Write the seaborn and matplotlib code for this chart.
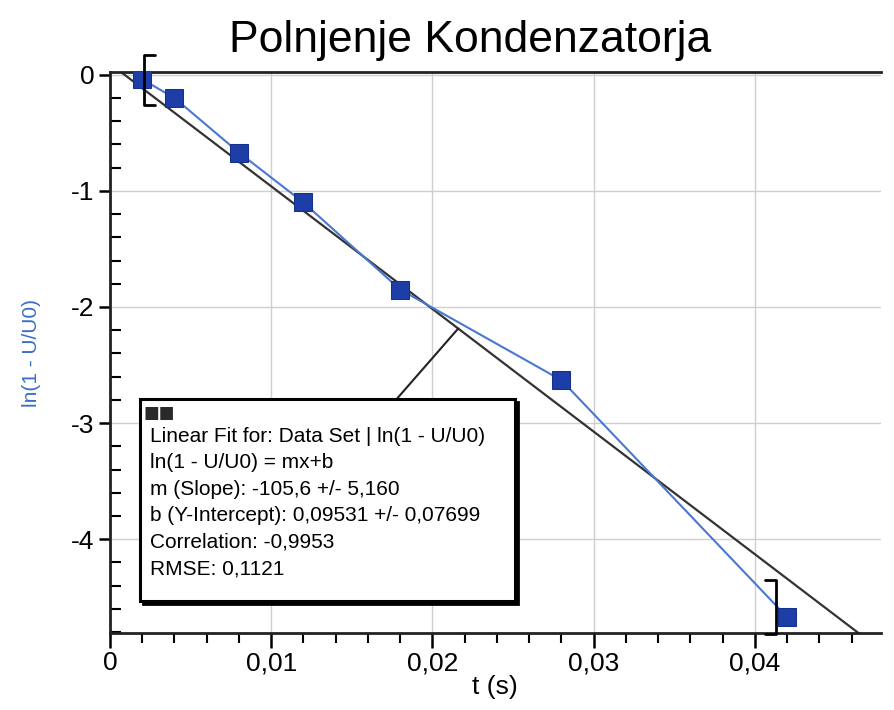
import numpy as np
import pandas as pd
import matplotlib
matplotlib.use("Agg")
import matplotlib.pyplot as plt
from matplotlib.patches import Rectangle
from matplotlib.ticker import MultipleLocator, FuncFormatter
import seaborn as sns

t_s = [0.002, 0.004, 0.008, 0.012, 0.018, 0.028, 0.042]
ln_vals = [-0.04, -0.20, -0.67, -1.10, -1.85, -2.63, -4.67]

# linear fit reported in the box
fit_m = -105.6
fit_b = 0.09531
fit_text = ["Linear Fit for: Data Set | ln(1 - U/U0)",
            "ln(1 - U/U0) = mx+b",
            "m (Slope): -105,6 +/- 5,160",
            "b (Y-Intercept): 0,09531 +/- 0,07699",
            "Correlation: -0,9953",
            "RMSE: 0,1121"]

df = pd.DataFrame({"t": t_s, "ln": ln_vals})

sns.set_style("white")
plt.rcParams['font.family'] = ['Liberation Sans', 'DejaVu Sans']
plt.rcParams['text.color'] = 'black'
plt.rcParams['axes.labelcolor'] = 'black'
plt.rcParams['xtick.color'] = 'black'
plt.rcParams['ytick.color'] = 'black'

fig = plt.figure(figsize=(8.94, 7.10), dpi=100)
ax = fig.add_axes([0.123, 0.108, 0.862, 0.791])

x0, x1 = 0, 0.0478
y0, y1 = -4.81, 0.026
ax.set_xlim(x0, x1)
ax.set_ylim(y0, y1)

# fit line across the whole plot
xf = np.array([x0, x1])
ax.plot(xf, fit_m * xf + fit_b, color="#333333", lw=1.6, zorder=2)

# data set
sns.lineplot(data=df, x="t", y="ln", ax=ax, color="#4a78d0", lw=1.5,
             marker="s", markersize=13, markerfacecolor="#1c3ea6",
             markeredgecolor="#16318a", zorder=3)

# selection brackets
def bracket(x, ya, yb, side):
    d = 0.0007 * side
    ax.plot([x + d, x, x, x + d], [ya, ya, yb, yb], color="black", lw=2,
            clip_on=False, zorder=4)

bracket(0.0021, 0.17, -0.26, 1)
bracket(0.0413, -4.35, -4.82, -1)

# grid, ticks
ax.xaxis.set_major_locator(MultipleLocator(0.01))
ax.xaxis.set_minor_locator(MultipleLocator(0.002))
ax.yaxis.set_major_locator(MultipleLocator(1))
ax.yaxis.set_minor_locator(MultipleLocator(0.2))
ax.xaxis.set_major_formatter(FuncFormatter(lambda v, p: ("%g" % round(v, 4)).replace(".", ",")))
ax.yaxis.set_major_formatter(FuncFormatter(lambda v, p: "%d" % round(v)))
ax.grid(True, which="major", color="#cfcfcf", lw=1)
ax.tick_params(axis="x", which="major", direction="out", length=11, width=1.8,
               labelsize=19, pad=2)
ax.tick_params(axis="x", which="minor", direction="out", length=7, width=1.5)
ax.tick_params(axis="y", which="major", direction="out", length=8, width=1.8,
               labelsize=19, pad=3)
ax.tick_params(axis="y", which="minor", direction="in", length=8, width=1.5)
ax.tick_params(bottom=True, left=True, which="both")

for s in ["left", "bottom", "top"]:
    ax.spines[s].set_color("#222222")
    ax.spines[s].set_linewidth(2)
ax.spines["right"].set_visible(False)

ax.set_xlabel("t (s)", fontsize=19, labelpad=0)
ax.set_ylabel("ln(1 - U/U0)", fontsize=15, color="#3a6fc4", labelpad=22)

fig.text(0.526, 0.943, "Polnjenje Kondenzatorja", fontsize=32,
         ha="center", va="center")

# fit info box with leader to the fit line
t_ann = 0.0216
ax.plot([0.0178, t_ann], [-2.79, fit_m * t_ann + fit_b], color="#222222",
        lw=1.5, zorder=2)
bx0, bx1, by0, by1 = 0.00186, 0.0251, -4.53, -2.79
ax.add_patch(Rectangle((bx0 + 0.0002, by0 - 0.03), bx1 - bx0, by1 - by0,
                       fc="black", ec="black", lw=2, zorder=5))
ax.add_patch(Rectangle((bx0, by0), bx1 - bx0, by1 - by0,
                       fc="white", ec="black", lw=2.2, zorder=5))
ax.text(0.0025, -3.03, "\n".join(fit_text), fontsize=15, va="top",
        ha="left", linespacing=1.5, zorder=6)
ax.text(0.0021, -2.91, "\u25a0\u25a0", fontsize=12, color="#2a2a2a",
        va="center", ha="left", zorder=6, family=["DejaVu Sans"])

fig.savefig("out.png", dpi=100)
